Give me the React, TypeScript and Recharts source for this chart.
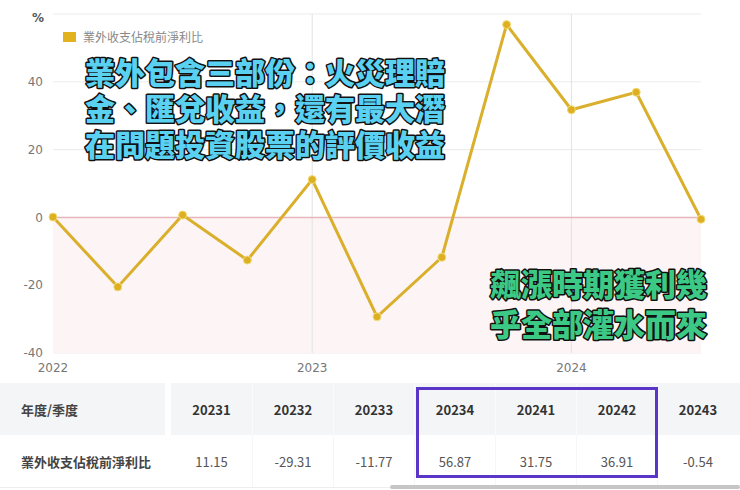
import React from 'react';
import {
  LineChart,
  Line,
  XAxis,
  YAxis,
  CartesianGrid,
  ReferenceLine,
  ReferenceArea,
} from 'recharts';

// quarterly ratio of non-operating income to pre-tax profit (%)
const periods = [
  '2022Q1', '2022Q2', '2022Q3', '2022Q4',
  '2023Q1', '2023Q2', '2023Q3', '2023Q4',
  '2024Q1', '2024Q2', '2024Q3',
];
const ratioValues = [0.1, -20.5, 0.7, -12.6, 11.15, -29.31, -11.77, 56.87, 31.75, 36.91, -0.54];

const yearTicks = [0, 4, 8];
const yearLabels = ['2022', '2023', '2024'];
const yTicks = [-40, -20, 0, 20, 40, 60];

const seriesName = '業外收支佔稅前淨利比';

const tableQuarters = ['20231', '20232', '20233', '20234', '20241', '20242', '20243'];
const tableValues = ['11.15', '-29.31', '-11.77', '56.87', '31.75', '36.91', '-0.54'];

const noteBlue = ['業外包含三部份：火災理賠', '金、匯兌收益，還有最大潛', '在問題投資股票的評價收益'];
const noteGreen = ['飆漲時期獲利幾', '乎全部灌水而來'];

const chartData = periods.map((p, i) => ({ idx: i, period: p, value: ratioValues[i] }));

const CJK = '"Noto Sans CJK TC", "Noto Sans", sans-serif';

function YTick(props: any) {
  const { x, y, payload } = props;
  if (payload.value === 60) {
    return (
      <text x={x + 1} y={y + 4} dy="0.355em" textAnchor="end" fontSize={12} fontWeight="bold" fill="#555" fontFamily="DejaVu Sans">
        %
      </text>
    );
  }
  return (
    <text x={x} y={y} dy="0.355em" textAnchor="end" fontSize={12} fill="#777" fontFamily="DejaVu Sans">
      {payload.value}
    </text>
  );
}

function Notes() {
  return (
    <svg width={740} height={380} style={{ position: 'absolute', left: 0, top: 0, pointerEvents: 'none' }}>
      {noteBlue.map((t, i) => (
        <text
          key={t}
          x={85}
          y={71 + i * 36}
          dominantBaseline="central"
          fontSize={30}
          fontWeight={900}
          fontFamily={CJK}
          fill="#5ad1f1"
          stroke="#111"
          strokeWidth={3}
          strokeLinejoin="round"
          paintOrder="stroke"
        >
          {t}
        </text>
      ))}
      {noteGreen.map((t, i) => (
        <text
          key={t}
          x={490}
          y={282 + i * 40}
          dominantBaseline="central"
          fontSize={31}
          fontWeight={900}
          fontFamily={CJK}
          fill="#3cc985"
          stroke="#111"
          strokeWidth={3}
          strokeLinejoin="round"
          paintOrder="stroke"
        >
          {t}
        </text>
      ))}
    </svg>
  );
}

function DataTable() {
  const cell: React.CSSProperties = {
    width: 81,
    display: 'flex',
    alignItems: 'center',
    justifyContent: 'center',
    boxSizing: 'border-box',
  };
  return (
    <div style={{ position: 'absolute', left: 0, top: 383, width: 740, fontFamily: CJK, fontSize: 13 }}>
      <div style={{ display: 'flex', height: 52, background: '#f4f5f7' }}>
        <div style={{ width: 171, paddingLeft: 21, display: 'flex', alignItems: 'center', color: '#444', fontWeight: 'bold', boxSizing: 'border-box', borderRight: '6px solid #fff' }}>
          年度/季度
        </div>
        {tableQuarters.map((q, i) => (
          <div key={q} style={{ ...cell, color: '#333', fontWeight: 'bold', borderLeft: i > 0 ? '1px solid #fbfbfc' : 'none' }}>
            {q}
          </div>
        ))}
      </div>
      <div style={{ display: 'flex', height: 52, background: '#fff', borderBottom: '1px solid #eee' }}>
        <div style={{ width: 171, paddingLeft: 21, display: 'flex', alignItems: 'center', color: '#444', fontWeight: 'bold', boxSizing: 'border-box' }}>
          {seriesName}
        </div>
        {tableValues.map((v, i) => (
          <div key={i} style={{ ...cell, color: '#555', borderLeft: i > 0 ? '1px solid #f6f6f6' : 'none' }}>
            {v}
          </div>
        ))}
      </div>
    </div>
  );
}

export default function App() {
  return (
    <div style={{ position: 'absolute', left: 0, top: 0, width: 740, height: 490, background: '#fff', overflow: 'hidden' }}>
      <LineChart width={740} height={380} data={chartData} margin={{ top: 14, right: 39, bottom: 7, left: 8 }}>
        <ReferenceArea y1={-40} y2={0} fill="#fdf4f6" fillOpacity={1} stroke="none" />
        <CartesianGrid vertical={false} stroke="#ebebeb" />
        <ReferenceLine x={4} stroke="#e2e2e2" />
        <ReferenceLine x={8} stroke="#e2e2e2" />
        <ReferenceLine y={0} stroke="#e8b7bc" strokeWidth={1.5} />
        <XAxis
          dataKey="idx"
          type="number"
          domain={[0, 10]}
          ticks={yearTicks}
          tickFormatter={(v: number) => yearLabels[yearTicks.indexOf(v)]}
          axisLine={false}
          tickLine={false}
          tickMargin={4}
          height={20}
          tick={{ fontSize: 12, fill: '#777', fontFamily: 'DejaVu Sans' }}
        />
        <YAxis
          domain={[-40, 60]}
          ticks={yTicks}
          axisLine={false}
          tickLine={false}
          tickMargin={4}
          width={45}
          tick={<YTick />}
        />
        <Line
          dataKey="value"
          name={seriesName}
          stroke="#d9af2b"
          strokeWidth={3}
          dot={{ r: 4, fill: '#dcb020', stroke: '#f3dc7a', strokeWidth: 1 }}
          isAnimationActive={false}
        />
      </LineChart>
      <div style={{ position: 'absolute', left: 63, top: 28, display: 'flex', alignItems: 'center', fontFamily: CJK, fontSize: 12, color: '#888' }}>
        <span style={{ width: 13, height: 10, background: '#e3b31f', display: 'inline-block', marginRight: 7 }} />
        {seriesName}
      </div>
      <Notes />
      <DataTable />
      <div style={{ position: 'absolute', left: 416, top: 387, width: 242, height: 91, border: '3px solid #5a36c8', boxSizing: 'border-box' }} />
      <div style={{ position: 'absolute', left: 390, top: 485, width: 350, height: 4, background: '#c6c6c6', borderRadius: 2 }} />
    </div>
  );
}
